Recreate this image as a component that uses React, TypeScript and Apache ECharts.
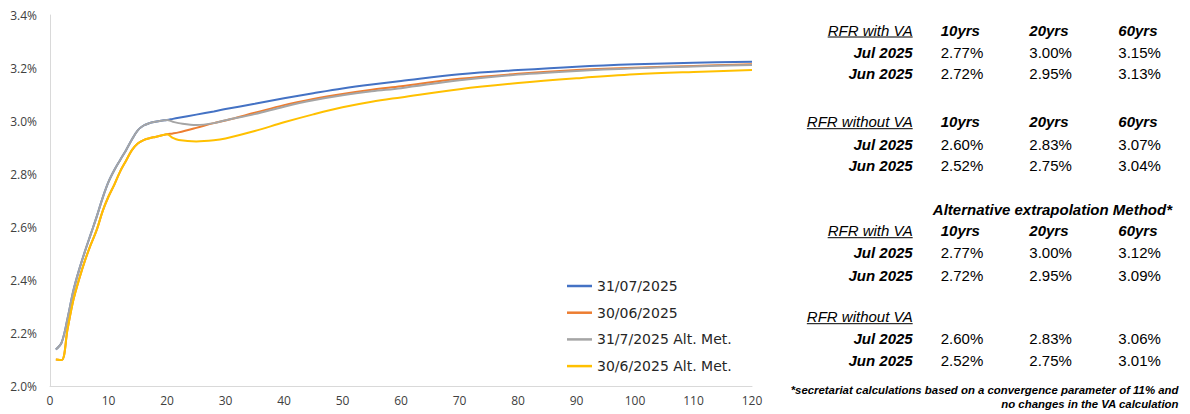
import React, { useEffect, useRef } from "react";
import * as echarts from "echarts";

// ---------- data ----------
const maturities = [1, 2, 3, 4, 5, 6, 7, 8, 9, 10, 11, 12, 13, 14, 15, 16, 17, 18, 19, 20, 21, 22, 25, 28, 30, 35, 40, 45, 50, 55, 60, 70, 80, 90, 100, 110, 120];

const jul2025 = [2.138, 2.165, 2.255, 2.36, 2.44, 2.51, 2.575, 2.64, 2.71, 2.77, 2.815, 2.853, 2.89, 2.93, 2.965, 2.983, 2.992, 2.997, 3.001, 3.004, 3.008, 3.012, 3.024, 3.036, 3.045, 3.065, 3.086, 3.105, 3.123, 3.138, 3.151, 3.176, 3.192, 3.205, 3.214, 3.22, 3.224];
const jun2025 = [2.1, 2.098, 2.215, 2.325, 2.405, 2.475, 2.535, 2.59, 2.66, 2.715, 2.76, 2.81, 2.85, 2.89, 2.915, 2.928, 2.935, 2.94, 2.945, 2.95, 2.953, 2.957, 2.974, 2.992, 3.002, 3.031, 3.06, 3.083, 3.102, 3.118, 3.131, 3.159, 3.178, 3.192, 3.201, 3.208, 3.214];
const jul2025Alt = [2.138, 2.165, 2.255, 2.36, 2.44, 2.51, 2.575, 2.64, 2.71, 2.77, 2.815, 2.853, 2.89, 2.93, 2.965, 2.983, 2.992, 2.997, 3.001, 3.004, 2.997, 2.992, 2.985, 2.992, 3.003, 3.026, 3.054, 3.078, 3.097, 3.112, 3.124, 3.154, 3.175, 3.189, 3.199, 3.206, 3.211];
const jun2025Alt = [2.1, 2.098, 2.215, 2.325, 2.405, 2.475, 2.535, 2.59, 2.66, 2.715, 2.76, 2.81, 2.85, 2.89, 2.915, 2.928, 2.935, 2.94, 2.945, 2.95, 2.936, 2.928, 2.923, 2.927, 2.934, 2.962, 2.995, 3.025, 3.052, 3.073, 3.089, 3.12, 3.143, 3.161, 3.176, 3.185, 3.192];

const seriesNames = ["31/07/2025", "30/06/2025", "31/7/2025 Alt. Met.", "30/6/2025 Alt. Met."];
const seriesColors = ["#4472C4", "#ED7D31", "#A5A5A5", "#FFC000"];

const yTicks = { min: 2.0, max: 3.4, step: 0.2 };
const xTicks = { min: 0, max: 120, step: 10 };

// table
const tableHorizons = ["10yrs", "20yrs", "60yrs"];
const monthLabels = ["Jul 2025", "Jun 2025"];
const withVA = [["2.77%", "3.00%", "3.15%"], ["2.72%", "2.95%", "3.13%"]];
const withoutVA = [["2.60%", "2.83%", "3.07%"], ["2.52%", "2.75%", "3.04%"]];
const altWithVA = [["2.77%", "3.00%", "3.12%"], ["2.72%", "2.95%", "3.09%"]];
const altWithoutVA = [["2.60%", "2.83%", "3.06%"], ["2.52%", "2.75%", "3.01%"]];
const altTitle = "Alternative extrapolation Method*";
const footnote = ["*secretariat calculations based on a convergence parameter of 11% and", "no changes in the VA calculation"];

const FONT_FAMILY = '"Liberation Sans", Arial, sans-serif';

function measure(text: string, font: string): number {
  const c = document.createElement("canvas");
  const ctx = c.getContext("2d");
  if (!ctx) return text.length * 7;
  ctx.font = font;
  return ctx.measureText(text).width;
}

export default function App() {
  const ref = useRef<HTMLDivElement>(null);

  useEffect(() => {
    document.body.style.margin = "0";
    if (!ref.current) return;
    const chart = echarts.init(ref.current, undefined, { renderer: "svg" });

    const labelRight = 912.7;
    const colX = [940.7, 1029.3, 1118.3];
    const fItalic = `italic 15px ${FONT_FAMILY}`;
    const fBoldItalic = `italic bold 15px ${FONT_FAMILY}`;
    const fRegular = `15px ${FONT_FAMILY}`;
    const fNote = `italic bold 11.4px ${FONT_FAMILY}`;

    const graphics: any[] = [];
    const txt = (text: string, x: number, y: number, font: string, align: string) => {
      graphics.push({
        type: "text",
        x,
        y,
        silent: true,
        style: { text, font, fill: "#000000", textAlign: align, textVerticalAlign: "middle" },
      });
    };
    const underlined = (text: string, y: number) => {
      txt(text, labelRight, y, fItalic, "right");
      const w = measure(text, fItalic);
      graphics.push({
        type: "line",
        silent: true,
        shape: { x1: labelRight - w, y1: y + 7, x2: labelRight, y2: y + 7 },
        style: { stroke: "#000000", lineWidth: 1 },
      });
    };
    const block = (title: string, headerY: number, rowYs: number[], values: string[][], showHeaders: boolean) => {
      underlined(title, headerY);
      if (showHeaders) tableHorizons.forEach((h, i) => txt(h, colX[i], headerY, fBoldItalic, "left"));
      rowYs.forEach((ry, r) => {
        txt(monthLabels[r], labelRight, ry, fBoldItalic, "right");
        values[r].forEach((v, i) => txt(v, colX[i], ry, fRegular, "left"));
      });
    };

    block("RFR with VA", 30, [52.3, 73.6], withVA, true);
    block("RFR without VA", 121.7, [144, 165.7], withoutVA, true);
    txt(altTitle, 1172, 209.3, fBoldItalic, "right");
    block("RFR with VA", 230.7, [252.7, 275], altWithVA, true);
    block("RFR without VA", 316.7, [338.3, 360.7], altWithoutVA, false);
    txt(footnote[0], 1178.5, 390, fNote, "right");
    txt(footnote[1], 1178.5, 404, fNote, "right");

    const allSeries = [jul2025, jun2025, jul2025Alt, jun2025Alt];

    chart.setOption({
      animation: false,
      backgroundColor: "#ffffff",
      grid: { left: 50, right: 438, top: 15, bottom: 28, containLabel: false },
      xAxis: {
        type: "value",
        min: xTicks.min,
        max: xTicks.max,
        interval: xTicks.step,
        axisLine: { show: true, lineStyle: { color: "#D9D9D9", width: 1 } },
        axisTick: { show: false },
        splitLine: { show: false },
        axisLabel: { color: "#404040", fontFamily: '"Open Sans", sans-serif', fontSize: 12, margin: 8 },
      },
      yAxis: {
        type: "value",
        min: yTicks.min,
        max: yTicks.max,
        interval: yTicks.step,
        axisLine: { show: true, lineStyle: { color: "#D9D9D9", width: 1 } },
        axisTick: { show: false },
        splitLine: { show: false },
        axisLabel: {
          color: "#404040",
          fontFamily: '"Open Sans", sans-serif',
          fontSize: 12,
          margin: 13,
          formatter: (v: number) => v.toFixed(1) + "%",
        },
      },
      legend: {
        orient: "vertical",
        left: 562,
        top: 273,
        icon: "rect",
        itemWidth: 25,
        itemHeight: 2.5,
        itemGap: 10.7,
        data: seriesNames,
        textStyle: { color: "#262626", fontFamily: '"DejaVu Sans", Verdana, sans-serif', fontSize: 14, lineHeight: 16 },
      },
      series: allSeries.map((vals, i) => ({
        name: seriesNames[i],
        type: "line",
        data: maturities.map((m, k) => [m, vals[k]]),
        smooth: 0.35,
        symbol: "none",
        showSymbol: false,
        color: seriesColors[i],
        itemStyle: { color: seriesColors[i] },
        lineStyle: { color: seriesColors[i], width: 2 },
        z: 2 + i,
      })),
      graphic: graphics,
    });

    return () => chart.dispose();
  }, []);

  return <div ref={ref} style={{ width: 1190, height: 414 }} />;
}
